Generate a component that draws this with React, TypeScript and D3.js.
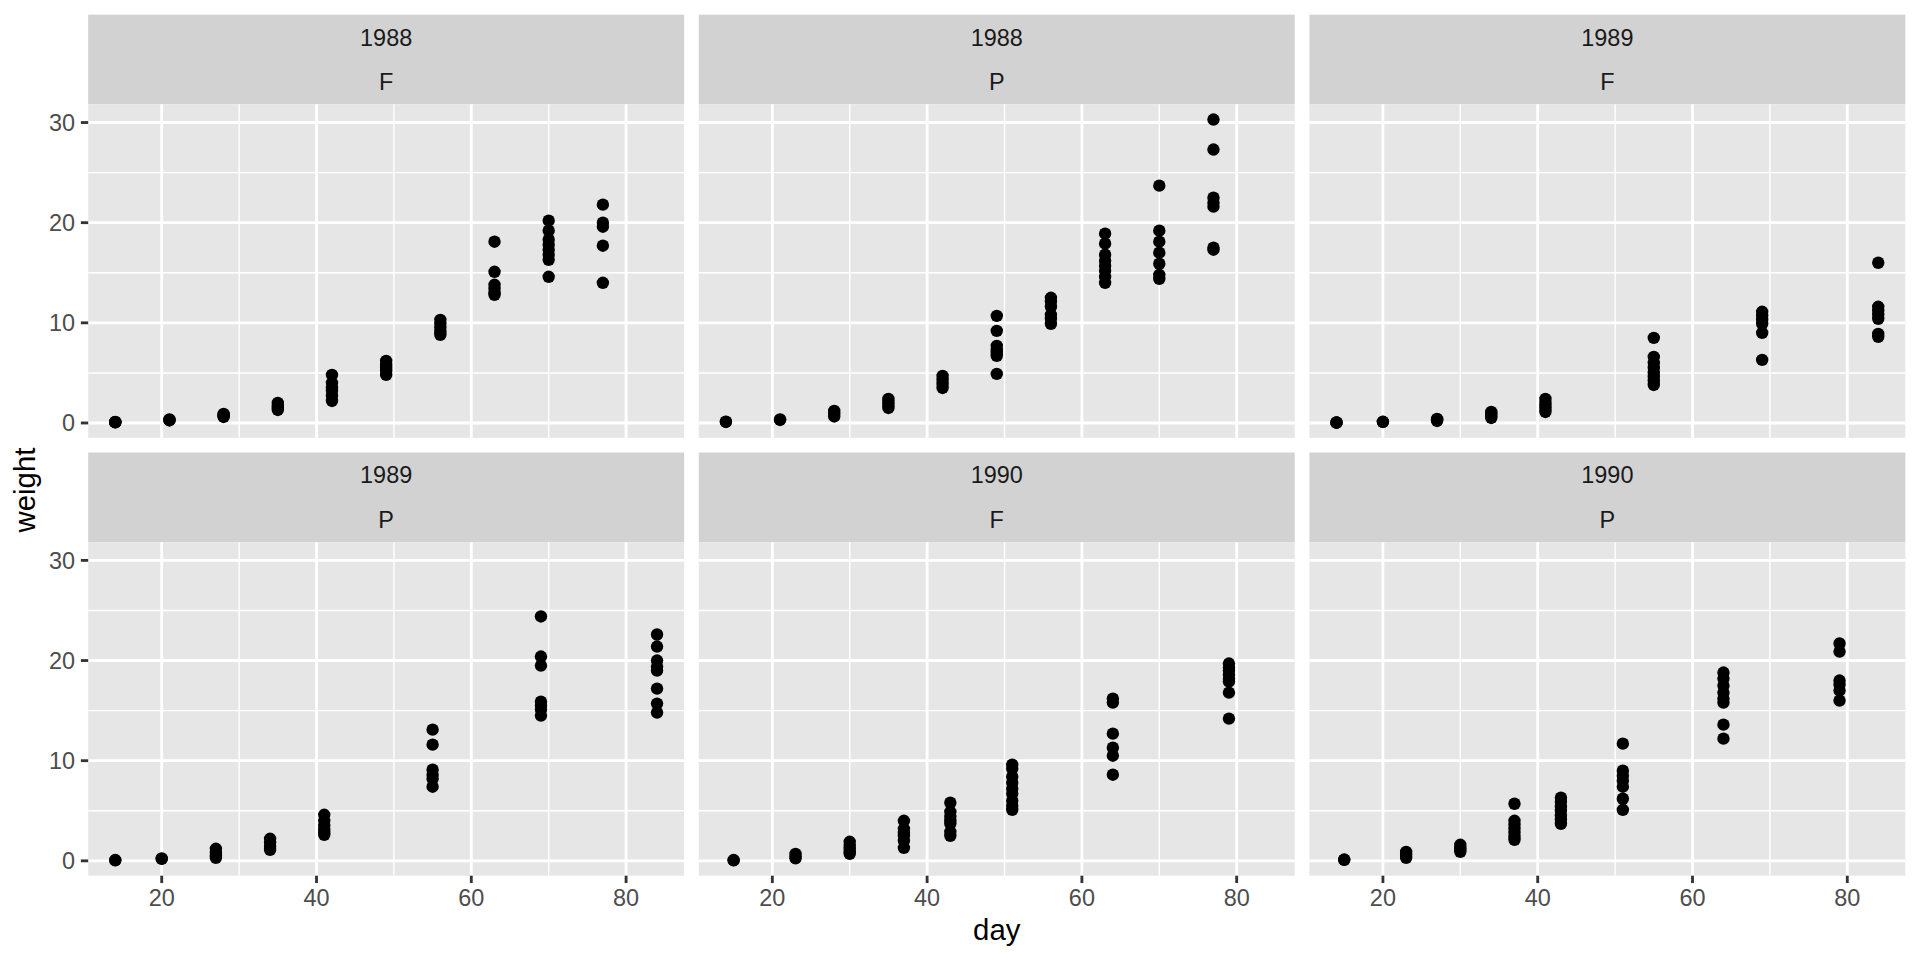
import React from "react";
import * as d3 from "d3";

// ---- data ----
const panelYears = ["1988", "1988", "1989", "1989", "1990", "1990"];
const panelVarieties = ["F", "P", "F", "P", "F", "P"];

const days1988 = [14, 21, 28, 35, 42, 49, 56, 63, 70, 77];
const days1989 = [14, 20, 27, 34, 41, 55, 69, 84];
const days1990 = [15, 23, 30, 37, 43, 51, 64, 79];

const weights1988F = [
  [0.06, 0.09, 0.11, 0.08],
  [0.25, 0.3, 0.35],
  [0.6, 0.7, 0.8, 0.9],
  [1.3, 1.5, 1.7, 2.0],
  [2.2, 2.7, 3.2, 3.5, 4.0, 4.8],
  [4.8, 5.2, 5.5, 5.8, 6.2],
  [8.8, 9.1, 9.5, 9.9, 10.3],
  [12.8, 13.0, 13.4, 13.8, 15.1, 18.1],
  [14.6, 16.3, 16.8, 17.3, 17.8, 18.3, 19.2, 20.2],
  [14.0, 17.7, 19.6, 20.0, 21.8],
];
const weights1988P = [
  [0.1, 0.13],
  [0.3, 0.35],
  [0.65, 0.9, 1.2],
  [1.5, 1.8, 2.1, 2.4],
  [3.5, 3.9, 4.3, 4.7],
  [4.9, 6.7, 7.0, 7.3, 7.7, 9.2, 10.7],
  [9.9, 10.4, 10.8, 11.6, 12.1, 12.5],
  [14.0, 14.6, 15.2, 15.7, 16.2, 16.8, 17.9, 18.9],
  [14.4, 14.8, 15.9, 17.0, 18.1, 19.2, 23.7],
  [17.3, 17.5, 21.6, 22.0, 22.5, 27.3, 30.3],
];
const weights1989F = [
  [0.03, 0.05, 0.06],
  [0.1, 0.12],
  [0.2, 0.3, 0.4],
  [0.5, 0.7, 0.9, 1.1],
  [1.1, 1.4, 1.7, 2.0, 2.4],
  [3.8, 4.2, 4.6, 5.0, 5.5, 6.0, 6.6, 8.5],
  [6.3, 9.0, 9.9, 10.3, 10.7, 11.1],
  [8.6, 8.9, 10.4, 10.8, 11.2, 11.6, 16.0],
];
const weights1989P = [
  [0.05, 0.08],
  [0.2, 0.25],
  [0.3, 0.5, 0.8, 1.2],
  [1.1, 1.4, 1.8, 2.2],
  [2.6, 2.8, 3.1, 3.5, 4.0, 4.6],
  [7.4, 8.2, 8.6, 9.1, 11.6, 13.1],
  [14.5, 15.1, 15.5, 15.9, 19.5, 20.4, 24.4],
  [14.8, 15.7, 17.2, 19.0, 19.4, 20.0, 21.4, 22.6],
];
const weights1990F = [
  [0.05, 0.08],
  [0.25, 0.45, 0.7],
  [0.7, 0.9, 1.2, 1.5, 1.9],
  [1.3, 2.0, 2.5, 2.8, 3.2, 4.0],
  [2.5, 2.9, 3.7, 4.0, 4.4, 4.9, 5.8],
  [5.1, 5.5, 6.0, 6.7, 7.2, 7.8, 8.4, 9.2, 9.6],
  [8.6, 10.5, 11.3, 12.7, 15.8, 16.2],
  [14.2, 16.8, 17.9, 18.2, 18.6, 19.0, 19.3, 19.7],
];
const weights1990P = [
  [0.1, 0.13],
  [0.3, 0.6, 0.9],
  [0.9, 1.1, 1.3, 1.6],
  [2.1, 2.4, 2.8, 3.2, 3.6, 4.0, 5.7],
  [3.7, 4.1, 4.5, 5.0, 5.4, 5.9, 6.3],
  [5.1, 6.2, 7.4, 8.0, 8.5, 9.0, 11.7],
  [12.2, 13.6, 15.8, 16.2, 16.8, 17.5, 18.2, 18.8],
  [16.0, 17.0, 17.6, 18.0, 20.9, 21.7],
];

const panelDays = [days1988, days1988, days1989, days1989, days1990, days1990];
const panelWeights = [weights1988F, weights1988P, weights1989F, weights1989P, weights1990F, weights1990P];

const xTicks = [20, 40, 60, 80];
const xMinor = [30, 50, 70];
const yTicks = [0, 10, 20, 30];
const yMinor = [5, 15, 25];

const xTitle = "day";
const yTitle = "weight";

// ---- layout ----
const W = 1920;
const H = 960;
const PT = 2.667;
const FONT = "'Liberation Sans', Arial, Helvetica, sans-serif";
const plotLeft = 88.2;
const plotRight = W - 5.5 * PT;
const top = 5.5 * PT;
const gap = 5.5 * PT;
const stripTotal = 89.7;
const bottomPanels = 875.7;
const pw = (plotRight - plotLeft - 2 * gap) / 3;
const ph = (bottomPanels - top - 2 * stripTotal - gap) / 2;
const tickLen = 2.75 * PT;
const majorW = 2.84;
const minorW = 1.42;
const panelFill = "#E6E6E6";
const stripFill = "#D2D2D2";

type Pt = { day: number; w: number };

export default function App() {
  const allPts: Pt[][] = panelDays.map((days, i) =>
    days.flatMap((d, j) => panelWeights[i][j].map((w) => ({ day: d, w })))
  );
  const flat = allPts.flat();
  const xExt = d3.extent(flat, (p) => p.day) as [number, number];
  const yExt = d3.extent(flat, (p) => p.w) as [number, number];
  const xPad = (xExt[1] - xExt[0]) * 0.05;
  const yPad = (yExt[1] - yExt[0]) * 0.05;

  const x = d3.scaleLinear().domain([xExt[0] - xPad, xExt[1] + xPad]).range([0, pw]);
  const y = d3.scaleLinear().domain([yExt[0] - yPad, yExt[1] + yPad]).range([ph, 0]);

  const panels = panelYears.map((yr, i) => {
    const col = i % 3;
    const row = Math.floor(i / 3);
    const px = plotLeft + col * (pw + gap);
    const sy = top + row * (stripTotal + ph + gap);
    const py = sy + stripTotal;
    const half = stripTotal / 2;
    return (
      <g key={i}>
        <rect x={px} y={sy} width={pw} height={stripTotal} fill={stripFill} />
        <text x={px + pw / 2} y={sy + half / 2} dy="0.36em" textAnchor="middle" fontSize={8.8 * PT} fill="#1A1A1A" fontFamily={FONT}>
          {yr}
        </text>
        <text x={px + pw / 2} y={sy + half + half / 2} dy="0.36em" textAnchor="middle" fontSize={8.8 * PT} fill="#1A1A1A" fontFamily={FONT}>
          {panelVarieties[i]}
        </text>
        <g transform={`translate(${px},${py})`}>
          <rect width={pw} height={ph} fill={panelFill} />
          {yMinor.map((v) => (
            <line key={"ym" + v} x1={0} x2={pw} y1={y(v)} y2={y(v)} stroke="#fff" strokeWidth={minorW} />
          ))}
          {xMinor.map((v) => (
            <line key={"xm" + v} y1={0} y2={ph} x1={x(v)} x2={x(v)} stroke="#fff" strokeWidth={minorW} />
          ))}
          {yTicks.map((v) => (
            <line key={"yM" + v} x1={0} x2={pw} y1={y(v)} y2={y(v)} stroke="#fff" strokeWidth={majorW} />
          ))}
          {xTicks.map((v) => (
            <line key={"xM" + v} y1={0} y2={ph} x1={x(v)} x2={x(v)} stroke="#fff" strokeWidth={majorW} />
          ))}
          {allPts[i].map((p, k) => (
            <circle key={k} cx={x(p.day)} cy={y(p.w)} r={6.2} fill="#000" />
          ))}
          {col === 0 &&
            yTicks.map((v) => (
              <g key={"yt" + v}>
                <line x1={-tickLen} x2={0} y1={y(v)} y2={y(v)} stroke="#333333" strokeWidth={majorW} />
                <text x={-tickLen - 2.2 * PT} y={y(v)} dy="0.36em" textAnchor="end" fontSize={8.8 * PT} fill="#4D4D4D" fontFamily={FONT}>
                  {v}
                </text>
              </g>
            ))}
          {row === 1 &&
            xTicks.map((v) => (
              <g key={"xt" + v}>
                <line x1={x(v)} x2={x(v)} y1={ph} y2={ph + tickLen} stroke="#333333" strokeWidth={majorW} />
                <text x={x(v)} y={ph + tickLen + 2.2 * PT + 0.716 * 8.8 * PT} textAnchor="middle" fontSize={8.8 * PT} fill="#4D4D4D" fontFamily={FONT}>
                  {v}
                </text>
              </g>
            ))}
        </g>
      </g>
    );
  });

  const yTitleCy = (top + stripTotal + bottomPanels) / 2;

  return (
    <svg
      width={W}
      height={H}
      style={{ position: "absolute", left: 0, top: 0, display: "block", background: "#fff" }}
    >
      <rect width={W} height={H} fill="#fff" />
      {panels}
      <text x={(plotLeft + plotRight) / 2} y={940} textAnchor="middle" fontSize={11 * PT} fill="#000" fontFamily={FONT}>
        {xTitle}
      </text>
      <text
        transform={`translate(35.4,${yTitleCy}) rotate(-90)`}
        textAnchor="middle"
        fontSize={11 * PT}
        fill="#000"
        fontFamily={FONT}
      >
        {yTitle}
      </text>
    </svg>
  );
}
